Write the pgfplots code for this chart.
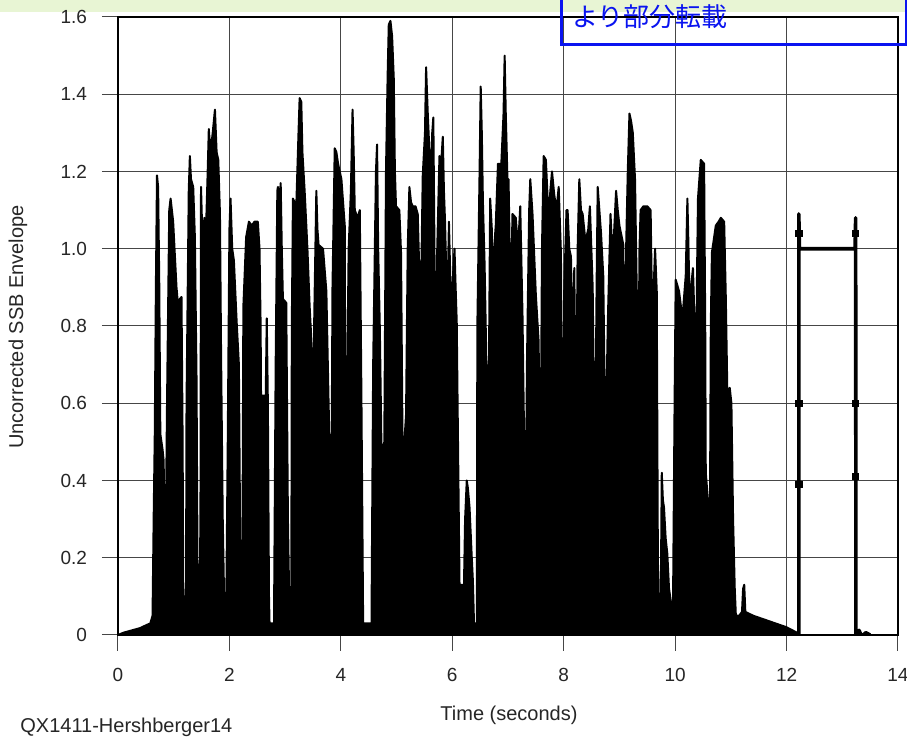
\documentclass[border=0pt]{standalone}
\usepackage{fontspec}
\setmainfont{Liberation Sans}
\newfontfamily\cjk{Noto Sans CJK JP}
\usepackage{pgfplots}
\pgfplotsset{compat=1.18}
\definecolor{slidegreen}{RGB}{232,245,212}
\definecolor{boxblue}{RGB}{10,20,240}
\definecolor{gridgray}{RGB}{70,70,70}

\begin{document}
\begin{tikzpicture}
% page = 907 x 737 px, 1 px = 0.5pt, axis box at (0,0)-(390pt,309pt)
\useasboundingbox (-59pt,-51pt) rectangle (394.5pt,317.5pt);
\clip (-59pt,-51pt) rectangle (394.5pt,317.5pt);
\fill[white] (-59pt,-51pt) rectangle (394.5pt,317.5pt);
\fill[slidegreen] (-59pt,311.5pt) rectangle (394.5pt,317.5pt);

\begin{axis}[
  at={(0,0)}, anchor=south west,
  scale only axis, width=390pt, height=309pt,
  xmin=0, xmax=14, ymin=0, ymax=1.6,
  xtick={0,2,4,6,8,10,12,14},
  xticklabels={0,2,4,6,8,10,12,14},
  ytick={0,0.2,0.4,0.6,0.8,1.0,1.2,1.4,1.6},
  yticklabels={0,0.2,0.4,0.6,0.8,1.0,1.2,1.4,1.6},
  tick pos=left, tick align=outside, major tick length=8pt,
  every tick/.style={gridgray, line width=0.5pt},
  grid=major, grid style={gridgray, line width=0.5pt},
  axis line style={black, line width=1pt},
  tick label style={font=\fontsize{9.5}{11}\selectfont, text=black!85},
  xticklabel style={yshift=-5pt},
  yticklabel style={xshift=-4pt},
]
% speech envelope (upper outline of the dense SSB trace)
\addplot[draw=black, fill=black, line width=1pt, line join=round] coordinates {
(0,0)(0.1,0.006)(0.2,0.01)(0.3,0.014)(0.4,0.018)(0.5,0.025)(0.58,0.03)(0.62,0.05)
(0.64,0.3)(0.66,0.52)(0.68,0.9)(0.70,1.19)(0.72,1.16)(0.74,0.92)(0.76,0.52)(0.80,0.48)(0.82,0.45)(0.84,0.12)(0.86,0.3)
(0.88,0.6)(0.92,1.10)(0.944,1.13)(0.99,1.07)(1.05,0.90)(1.08,0.85)(1.11,0.87)(1.14,0.875)(1.16,0.5)(1.17,0.14)(1.20,0.03)(1.22,0.05)
(1.23,0.6)(1.27,1.15)(1.29,1.24)(1.31,1.18)(1.35,1.16)(1.38,1.03)(1.41,0.66)(1.43,0.1)(1.46,0.04)(1.48,0.3)
(1.49,1.16)(1.52,1.0)(1.55,1.08)(1.58,1.05)(1.61,1.2)(1.63,1.31)(1.66,1.25)(1.70,1.30)(1.74,1.36)(1.77,1.25)(1.80,1.23)(1.83,1.09)(1.85,0.73)(1.88,0.3)(1.91,0.05)(1.94,0.03)
(1.97,0.5)(2.00,1.05)(2.02,1.13)(2.05,1.0)(2.08,0.97)(2.13,0.81)(2.17,0.70)(2.19,0.3)(2.21,0.05)(2.23,0.05)
(2.25,0.85)(2.30,1.03)(2.35,1.07)(2.40,1.06)(2.45,1.07)(2.51,1.07)(2.54,1.0)(2.56,0.8)(2.58,0.3)(2.59,0.62)(2.63,0.62)(2.65,0.6)(2.67,0.82)(2.69,0.6)(2.71,0.1)(2.72,0.03)(2.80,0.03)
(2.83,0.7)(2.86,1.15)(2.87,1.16)(2.90,1.12)(2.92,1.17)(2.94,1.0)(2.96,0.87)(3.02,0.86)(3.05,0.3)(3.08,0.03)(3.11,0.05)
(3.12,0.8)(3.14,1.13)(3.20,1.11)(3.24,1.30)(3.26,1.39)(3.29,1.38)(3.31,1.25)(3.35,1.15)(3.40,1.0)(3.44,0.85)(3.49,0.71)(3.50,0.25)
(3.52,0.8)(3.56,1.15)(3.58,1.05)(3.60,1.01)(3.68,1.0)(3.74,0.89)(3.78,0.6)(3.80,0.47)(3.82,0.05)
(3.85,0.9)(3.89,1.26)(3.92,1.25)(3.95,1.22)(4.01,1.18)(4.05,1.10)(4.07,1.06)(4.09,0.1)(4.11,0.6)
(4.14,1.0)(4.18,1.15)(4.21,1.36)(4.23,1.25)(4.25,1.10)(4.30,1.08)(4.34,1.10)(4.37,0.6)(4.40,0.03)(4.55,0.03)
(4.58,0.7)(4.63,1.2)(4.65,1.27)(4.67,1.0)(4.70,0.79)(4.73,0.47)(4.78,0.5)(4.81,1.2)
(4.84,1.45)(4.86,1.58)(4.89,1.59)(4.92,1.55)(4.95,1.44)(4.97,1.2)(4.99,1.11)(5.05,1.10)(5.08,0.99)(5.11,0.44)
(5.14,0.5)(5.17,0.57)(5.20,1.0)(5.23,1.16)(5.26,1.12)(5.29,1.11)(5.34,1.11)(5.38,1.09)(5.41,0.93)
(5.44,0.9)(5.47,1.19)(5.51,1.30)(5.53,1.47)(5.56,1.35)(5.59,1.25)(5.62,1.20)(5.64,1.3)(5.66,1.34)(5.68,1.0)(5.70,0.6)
(5.73,1.0)(5.77,1.24)(5.80,1.22)(5.83,1.29)(5.85,1.15)(5.87,1.07)(5.91,0.83)(5.94,1.07)(5.98,0.83)(6.02,0.95)(6.04,1.0)(6.06,0.9)(6.08,0.81)(6.11,0.4)(6.13,0.13)
(6.18,0.13)(6.21,0.13)
(6.23,0.3)(6.26,0.40)(6.28,0.38)(6.31,0.33)(6.35,0.2)(6.37,0.14)(6.39,0.03)(6.44,0.03)
(6.45,0.8)(6.49,1.2)(6.51,1.42)(6.53,1.3)(6.55,1.12)(6.58,0.96)(6.61,0.72)(6.65,0.53)
(6.68,1.13)(6.71,1.05)(6.73,0.2)(6.75,1.0)(6.78,1.06)(6.82,1.22)(6.88,1.22)(6.92,1.35)(6.94,1.50)(6.96,1.35)(6.99,1.18)
(7.01,1.18)(7.05,0.82)(7.08,1.09)(7.14,1.08)(7.18,1.0)(7.22,1.11)(7.26,0.83)(7.29,0.5)(7.31,0.18)
(7.34,0.7)(7.38,1.1)(7.40,1.18)(7.44,1.09)(7.50,0.88)(7.55,0.76)(7.58,0.30)
(7.61,1.0)(7.64,1.24)(7.68,1.23)(7.73,1.07)(7.76,1.15)(7.79,1.20)(7.83,1.14)(7.87,1.10)(7.91,1.16)(7.95,0.99)(7.98,0.35)
(8.01,0.9)(8.05,1.1)(8.07,1.10)(8.10,1.0)(8.13,0.98)(8.16,0.74)(8.19,0.95)(8.22,0.5)
(8.25,1.0)(8.28,1.18)(8.31,1.1)(8.34,1.09)(8.39,1.02)(8.44,1.05)(8.47,1.11)(8.52,0.90)(8.56,0.38)
(8.59,0.9)(8.61,1.16)(8.64,1.1)(8.67,1.04)(8.71,0.93)(8.75,0.46)
(8.79,0.8)(8.84,1.09)(8.88,0.97)(8.94,1.15)(8.97,1.1)(9.0,1.06)(9.07,1.01)(9.10,0.6)(9.12,1.0)
(9.15,1.2)(9.18,1.35)(9.21,1.33)(9.24,1.30)(9.28,1.18)(9.32,0.81)(9.34,0.6)
(9.36,1.0)(9.38,1.10)(9.43,1.11)(9.50,1.11)(9.56,1.10)(9.59,0.80)(9.64,1.0)(9.67,0.89)(9.69,0.2)(9.71,0.04)(9.74,0.05)
(9.76,0.42)(9.78,0.35)(9.80,0.33)(9.83,0.25)(9.86,0.21)(9.89,0.12)(9.92,0.09)(9.96,0.04)
(9.99,0.6)(10.01,0.92)(10.07,0.89)(10.13,0.82)(10.19,0.93)(10.22,1.13)(10.24,1.0)(10.26,0.86)(10.32,0.95)(10.35,0.8)(10.37,0.44)(10.39,0.9)(10.41,1.13)(10.46,1.23)(10.52,1.22)(10.54,0.8)(10.55,0.42)(10.60,0.33)(10.62,0.14)
(10.64,0.8)(10.66,0.99)(10.73,1.06)(10.78,1.07)(10.82,1.08)(10.88,1.07)(10.91,0.87)(10.94,0.6)(10.96,0.3)
(10.98,0.64)(11.01,0.6)(11.04,0.3)(11.07,0.12)(11.09,0.05)(11.15,0.05)(11.20,0.06)(11.22,0.12)(11.24,0.13)(11.26,0.06)(11.4,0.05)(11.6,0.04)(11.8,0.03)(12.0,0.02)(12.2,0.005)
} \closedcycle;
% two-tone test signal
\addplot[black, line width=1.8pt, line join=round] coordinates {
(12.19,0.0)(12.22,0.0)(12.22,1.09)(12.23,1.0)(13.23,1.0)(13.24,1.08)(13.245,0.0)(13.30,0.012)(13.35,-0.004)(13.42,0.006)(13.5,0.0)
};
\addplot[only marks, mark=square*, mark size=1.6pt, black] coordinates {
(12.22,1.04)(12.22,0.60)(12.22,0.39)(13.24,1.04)(13.24,0.60)(13.24,0.41)
};
\end{axis}

\draw[boxblue, line width=1.5pt] (221.5pt,295pt) rectangle (394pt,330pt);
\node[anchor=base west, inner sep=0pt, text=boxblue, font=\cjk\fontsize{13}{15}\selectfont] at (227pt,304pt) {より部分転載};

\node[rotate=90, font=\fontsize{10}{12}\selectfont, text=black!85] at (-50pt,154pt) {Uncorrected SSB Envelope};
\node[anchor=base, font=\fontsize{10}{12}\selectfont, text=black!85] at (195.5pt,-43pt) {Time (seconds)};
\node[anchor=base west, inner sep=0pt, font=\fontsize{10}{12}\selectfont, text=black!85] at (-49pt,-49pt) {QX1411-Hershberger14};
\end{tikzpicture}
\end{document}
